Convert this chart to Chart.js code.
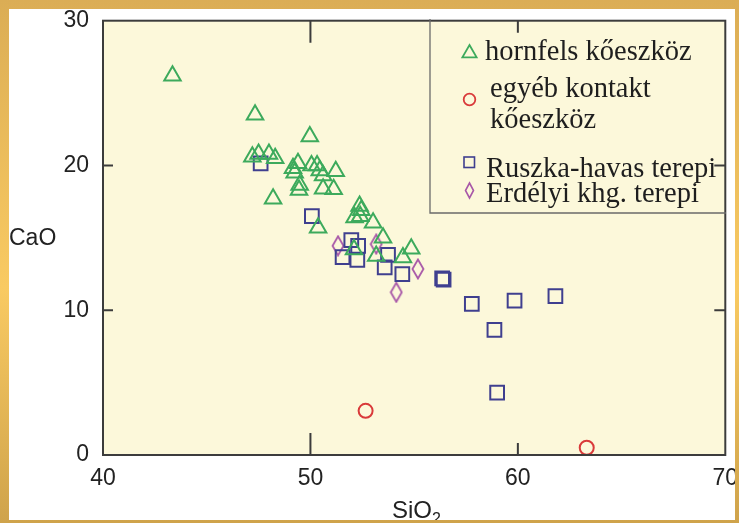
<!DOCTYPE html>
<html>
<head>
<meta charset="utf-8">
<script src="https://cdn.jsdelivr.net/npm/chart.js@4.4.1/dist/chart.umd.min.js"></script>
<style>
  html, body { margin: 0; padding: 0; }
  body {
    width: 739px; height: 523px; overflow: hidden; position: relative;
    background: linear-gradient(to bottom, #dbad55 0%, #f9ca62 55%, #cfa34b 100%);
  }
  #panel { position: absolute; left: 9px; top: 9px; width: 726px; height: 511px; background: #fff; overflow: hidden; }
  #panel canvas, #panel svg { position: absolute; left: 0; top: 0; }
  svg { pointer-events: none; }
</style>
</head>
<body>
<div id="panel">
  <canvas id="myChart" width="728" height="511"></canvas>
  <svg width="728" height="511" xmlns="http://www.w3.org/2000/svg">
    <!-- legend box (top/right edges are the plot frame) -->
    <path d="M421 10 V204 H717" fill="none" stroke="#6a6a6a" stroke-width="1.3"/>
    <polygon points="460.5,36 467.6,48.3 453.4,48.3" fill="none" stroke="#3daa5c" stroke-width="1.8"/>
    <circle cx="460.5" cy="90.5" r="5.8" fill="none" stroke="#d93a3a" stroke-width="1.8"/>
    <rect x="455" y="148" width="10.5" height="10.5" fill="none" stroke="#3f3f8f" stroke-width="1.6"/>
    <polygon points="460.5,174 464.5,181.5 460.5,189 456.5,181.5" fill="none" stroke="#a858a8" stroke-width="1.6"/>
    <g font-family="'Liberation Serif', 'Times New Roman', serif" font-size="28.5" fill="#1e1e1e">
      <text x="476" y="51">hornfels kőeszköz</text>
      <text x="481" y="88">egyéb kontakt</text>
      <text x="481" y="119">kőeszköz</text>
      <text x="477" y="168">Ruszka-havas terepi</text>
      <text x="477" y="193">Erdélyi khg. terepi</text>
    </g>
    <!-- axis titles -->
    <g font-family="'Liberation Sans', Arial, sans-serif" fill="#222">
      <text x="0" y="236" font-size="23">CaO</text>
      <text x="383" y="509" font-size="24">SiO<tspan font-size="16" dy="6">2</tspan></text>
    </g>
  </svg>
</div>
<script>
// SiO2 / CaO readings
const hornfelsSiO2 = [43.35, 47.33, 47.2, 47.5, 48.0, 48.3, 48.2, 49.97, 49.4, 49.16, 49.24, 49.48, 49.45, 50.05,
  50.32, 50.45, 50.61, 51.22, 50.61, 51.12, 50.37, 52.37, 52.45, 52.13, 52.4, 53.02, 53.5, 54.86, 54.46, 53.17, 52.1];
const hornfelsCaO = [26.2, 23.5, 20.6, 20.8, 20.8, 20.5, 17.7, 22.0, 20.15, 19.8, 19.5, 18.65, 18.3, 20.0,
  20.0, 19.65, 19.3, 19.6, 18.4, 18.35, 15.7, 17.2, 16.9, 16.4, 16.5, 16.05, 15.0, 14.25, 13.65, 13.75, 14.2];

const otherSiO2 = [52.66, 63.32];
const otherCaO = [3.05, 0.5];

const ruszkaSiO2 = [47.6, 50.07, 51.97, 52.3, 51.55, 52.26, 53.74, 53.58, 54.43, 56.35, 56.42, 57.78, 59.84, 61.81, 58.87, 59.0];
const ruszkaCaO = [20.15, 16.5, 14.85, 14.45, 13.67, 13.47, 13.83, 12.96, 12.5, 12.2, 12.12, 10.44, 10.67, 10.97, 8.65, 4.31];

const erdelyiSiO2 = [51.33, 53.17, 55.18, 54.14];
const erdelyiCaO = [14.45, 14.57, 12.85, 11.24];

const xTicks = [40, 50, 60, 70];
const yTicks = [0, 10, 20, 30];

const toPoints = (xs, ys) => xs.map((x, i) => ({ x: x, y: ys[i] }));

// tall diamond marker
function diamondMarker() {
  const c = document.createElement('canvas');
  c.width = 14; c.height = 22;
  const g = c.getContext('2d');
  g.strokeStyle = '#a858a8';
  g.lineWidth = 1.8;
  g.beginPath();
  g.moveTo(7, 1.5); g.lineTo(12.5, 11); g.lineTo(7, 20.5); g.lineTo(1.5, 11);
  g.closePath();
  g.stroke();
  return c;
}

const frame = {
  id: 'frame',
  beforeDraw(chart) {
    const a = chart.chartArea, ctx = chart.ctx;
    ctx.save();
    ctx.fillStyle = '#fcf8da';
    ctx.fillRect(a.left, a.top, a.right - a.left, a.bottom - a.top);
    ctx.restore();
  },
  afterDatasetsDraw(chart) {
    const a = chart.chartArea, ctx = chart.ctx;
    const xs = chart.scales.x, ys = chart.scales.y;
    ctx.save();
    ctx.strokeStyle = '#3c3c3c';
    ctx.lineWidth = 2;
    ctx.strokeRect(a.left, a.top, a.right - a.left, a.bottom - a.top);
    ctx.beginPath();
    // inward ticks
    [[50, 22], [60, 12]].forEach(([v, len]) => {
      const px = xs.getPixelForValue(v);
      ctx.moveTo(px, a.bottom); ctx.lineTo(px, a.bottom - len);
      ctx.moveTo(px, a.top); ctx.lineTo(px, a.top + len);
    });
    [10, 20].forEach(v => {
      const py = ys.getPixelForValue(v);
      ctx.moveTo(a.left, py); ctx.lineTo(a.left + 10, py);
      ctx.moveTo(a.right, py); ctx.lineTo(a.right - 11, py);
    });
    ctx.stroke();
    ctx.restore();
  }
};

const tickFont = { family: "'Liberation Sans', Arial, sans-serif", size: 23 };

new Chart(document.getElementById('myChart').getContext('2d'), {
  type: 'scatter',
  data: {
    datasets: [
      {
        label: 'hornfels kőeszköz',
        data: toPoints(hornfelsSiO2, hornfelsCaO),
        pointStyle: 'triangle',
        pointRadius: 9.5,
        pointHoverRadius: 9.5,
        borderColor: '#3daa5c',
        backgroundColor: 'transparent',
        borderWidth: 2
      },
      {
        label: 'egyéb kontakt kőeszköz',
        data: toPoints(otherSiO2, otherCaO),
        pointStyle: 'circle',
        pointRadius: 7,
        pointHoverRadius: 7,
        borderColor: '#d93a3a',
        backgroundColor: 'transparent',
        borderWidth: 2
      },
      {
        label: 'Ruszka-havas terepi',
        data: toPoints(ruszkaSiO2, ruszkaCaO),
        pointStyle: 'rect',
        pointRadius: 9.7,
        pointHoverRadius: 9.7,
        borderColor: '#3f3f8f',
        backgroundColor: 'transparent',
        borderWidth: 2
      },
      {
        label: 'Erdélyi khg. terepi',
        data: toPoints(erdelyiSiO2, erdelyiCaO),
        pointStyle: diamondMarker(),
        pointRadius: 8,
        borderColor: '#a858a8',
        backgroundColor: 'transparent'
      }
    ]
  },
  options: {
    responsive: false,
    animation: false,
    layout: { padding: { top: 10, right: 11, left: 0, bottom: 0 } },
    plugins: { legend: { display: false }, tooltip: { enabled: false } },
    scales: {
      x: {
        type: 'linear',
        min: 40, max: 70,
        afterBuildTicks: s => { s.ticks = xTicks.map(v => ({ value: v })); },
        afterFit: s => { s.height = 65; s.paddingLeft = 0; s.paddingRight = 0; },
        grid: { display: false, drawTicks: false, tickLength: 0 },
        border: { display: false },
        ticks: { font: tickFont, color: '#222', padding: 10, maxRotation: 0, autoSkip: false }
      },
      y: {
        type: 'linear',
        min: 0, max: 30,
        afterBuildTicks: s => { s.ticks = yTicks.map(v => ({ value: v })); },
        afterFit: s => { s.width = 94; s.paddingTop = 0; s.paddingBottom = 0; },
        grid: { display: false, drawTicks: false, tickLength: 0 },
        border: { display: false },
        ticks: { font: tickFont, color: '#222', padding: 14, autoSkip: false }
      }
    }
  },
  plugins: [frame]
});
</script>
</body>
</html>
